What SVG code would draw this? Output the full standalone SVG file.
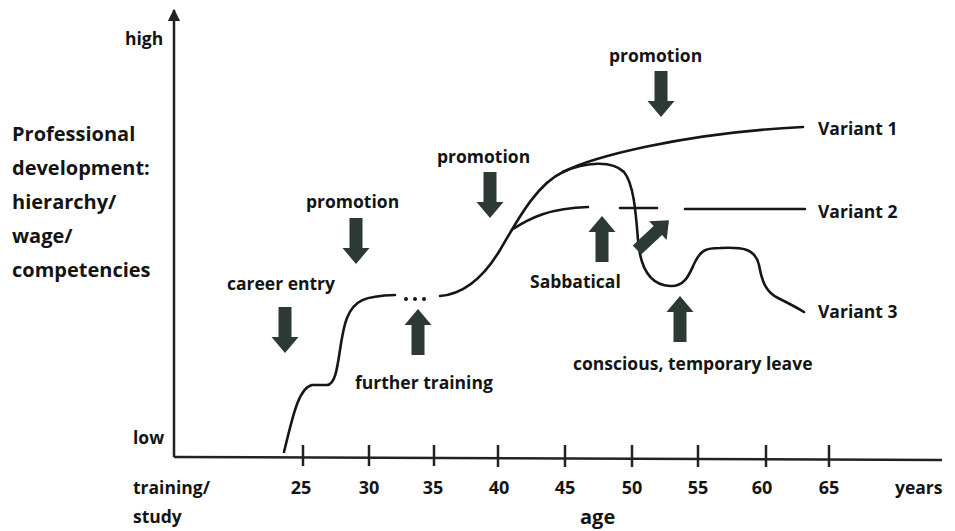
<svg xmlns="http://www.w3.org/2000/svg" xmlns:xlink="http://www.w3.org/1999/xlink" width="955" height="531" viewBox="0 0 955 531">
  <style>
    text { font-family: "Open Sans", "Liberation Sans", sans-serif; font-weight: 700; fill: #141414; }
    .lbl { font-size: 17.5px; }
    .big { font-size: 20px; }
    .num { font-size: 18px; text-anchor: middle; }
    .axis { stroke: #222; stroke-width: 2.5; fill: none; }
    .tick { stroke: #222; stroke-width: 2.5; }
    .curve { stroke: #161616; stroke-width: 2.6; fill: none; stroke-linecap: round; stroke-linejoin: round; }
    .blk { fill: #2d3a33; }
  </style>
  <defs>
    <!-- block arrow pointing down, origin at the tail centre -->
    <path id="blockArrow" d="M-6.5,0 H6.5 V30 H13.5 L0,46 L-13.5,30 H-6.5 Z"/>
    <marker id="axisHead" viewBox="0 0 10 10" refX="9" refY="5" markerWidth="5" markerHeight="5" orient="auto">
      <path d="M0,0 L10,5 L0,10 Z" fill="#222"/>
    </marker>
  </defs>

  <rect width="955" height="531" fill="#ffffff"/>

  <!-- axes -->
  <g id="axes">
    <line class="axis" x1="174" y1="457" x2="174" y2="10" marker-end="url(#axisHead)"/>
    <line class="axis" x1="174" y1="457" x2="942" y2="460"/>
    <g id="ticks">
      <line class="tick" x1="303" y1="445" x2="303" y2="466"/>
      <line class="tick" x1="369" y1="445" x2="369" y2="466"/>
      <line class="tick" x1="434" y1="445" x2="434" y2="466"/>
      <line class="tick" x1="498" y1="445" x2="498" y2="467"/>
      <line class="tick" x1="565" y1="445" x2="565" y2="467"/>
      <line class="tick" x1="632" y1="445" x2="632" y2="467"/>
      <line class="tick" x1="698" y1="445" x2="698" y2="467"/>
      <line class="tick" x1="766" y1="445" x2="766" y2="467"/>
      <line class="tick" x1="829" y1="445" x2="829" y2="467"/>
    </g>
  </g>

  <!-- axis labels -->
  <g id="axis-labels">
    <text class="lbl" x="125" y="45">high</text>
    <text class="lbl" x="133" y="444">low</text>
    <text class="big" x="12" y="141">Professional</text>
    <text class="big" x="12" y="175">development:</text>
    <text class="big" x="12" y="209">hierarchy/</text>
    <text class="big" x="12" y="243">wage/</text>
    <text class="big" x="12" y="277">competencies</text>
    <text class="lbl" x="133" y="494">training/</text>
    <text class="lbl" x="133" y="523">study</text>
    <text class="num" x="301" y="494">25</text>
    <text class="num" x="369" y="494">30</text>
    <text class="num" x="433" y="494">35</text>
    <text class="num" x="499" y="494">40</text>
    <text class="num" x="565" y="494">45</text>
    <text class="num" x="632" y="494">50</text>
    <text class="num" x="698" y="494">55</text>
    <text class="num" x="762" y="494">60</text>
    <text class="num" x="829" y="494">65</text>
    <text class="lbl" x="895" y="494">years</text>
    <text class="big" x="580" y="524">age</text>
  </g>

  <!-- career curves -->
  <g id="connectors">
    <path id="early-career" class="curve" d="M284,452 C292,420 298,388 312,385 L327,385 C340,385 338,340 347,318 C354,300 365,296 395,295"/>
    <g id="pause-dots" fill="#161616">
      <circle cx="406" cy="299" r="2"/>
      <circle cx="415" cy="299" r="2"/>
      <circle cx="424" cy="299" r="2"/>
    </g>
    <path id="mid-career" class="curve" d="M440,296 C465,294 485,275 500,250 C515,225 535,185 563,172"/>
    <path id="variant-1" class="curve" d="M563,172 C590,158 680,133 803,127"/>
    <path id="variant-2" class="curve" d="M513,229 C530,218 550,208 588,207 M620,208 H657 M685,209 H805"/>
    <path id="variant-3" class="curve" d="M563,172 C585,162 612,160 624,172 C634,184 636,215 638,240 C640,265 648,285 670,286 C686,287 690,272 695,262 C701,250 706,248 720,248 C742,247 755,248 759,265 C762,282 766,292 778,298 C788,303 796,307 804,312"/>
  </g>

  <!-- events -->
  <g id="career-entry">
    <use href="#blockArrow" class="blk" transform="translate(285,307)"/>
    <text class="lbl" x="227" y="290">career entry</text>
  </g>
  <g id="promotion-30">
    <use href="#blockArrow" class="blk" transform="translate(356,218)"/>
    <text class="lbl" x="306" y="208">promotion</text>
  </g>
  <g id="further-training">
    <use href="#blockArrow" class="blk" transform="translate(418,355) rotate(180)"/>
    <text class="lbl" x="355" y="389">further training</text>
  </g>
  <g id="promotion-40">
    <use href="#blockArrow" class="blk" transform="translate(490,172)"/>
    <text class="lbl" x="437" y="163">promotion</text>
  </g>
  <g id="promotion-50">
    <use href="#blockArrow" class="blk" transform="translate(661,71)"/>
    <text class="lbl" x="609" y="62">promotion</text>
  </g>
  <g id="sabbatical">
    <use href="#blockArrow" class="blk" transform="translate(602,262) rotate(180)"/>
    <text class="lbl" x="530" y="288">Sabbatical</text>
  </g>
  <g id="return">
    <use href="#blockArrow" class="blk" transform="translate(637,250) rotate(-133) scale(0.95)"/>
  </g>
  <g id="temporary-leave">
    <use href="#blockArrow" class="blk" transform="translate(680,342) rotate(180)"/>
    <text class="lbl" x="573" y="370">conscious, temporary leave</text>
  </g>

  <!-- curve labels -->
  <g id="variant-labels">
    <text class="lbl" x="818" y="135">Variant 1</text>
    <text class="lbl" x="818" y="218">Variant 2</text>
    <text class="lbl" x="818" y="318">Variant 3</text>
  </g>
</svg>
